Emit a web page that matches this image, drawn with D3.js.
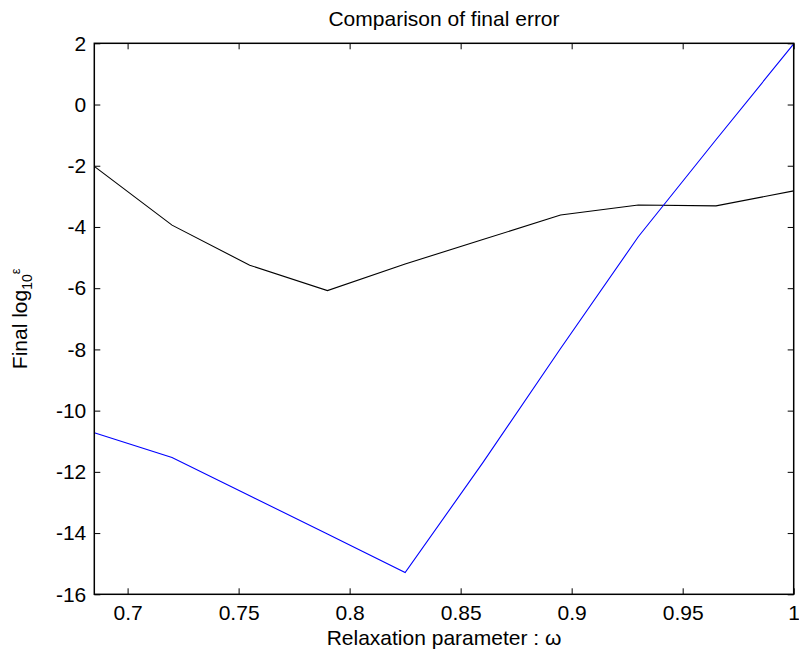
<!DOCTYPE html>
<html>
<head>
<meta charset="utf-8">
<script src="https://cdn.jsdelivr.net/npm/d3@7"></script>
<style>
  html, body { margin: 0; padding: 0; background: #fff; }
  svg { display: block; font-family: "Liberation Sans", Arial, Helvetica, sans-serif; }
</style>
</head>
<body>
<svg id="chart" width="799" height="657"></svg>
<script>
// Relaxation parameter values sampled
const omega = [0.685, 0.72, 0.755, 0.79, 0.825, 0.86, 0.895, 0.93, 0.965, 1.0];
// Final log10 error for the two methods
const errBlack = [-2.02, -3.94, -5.25, -6.08, -5.21, -4.41, -3.61, -3.28, -3.31, -2.82];
const errBlue = [-10.72, -11.53, -12.78, -14.03, -15.29, -11.7, -7.97, -4.32, -1.15, 1.98];
// Axis ticks
const xTicks = [0.7, 0.75, 0.8, 0.85, 0.9, 0.95, 1];
const xTickLabels = ["0.7", "0.75", "0.8", "0.85", "0.9", "0.95", "1"];
const yTicks = [-16, -14, -12, -10, -8, -6, -4, -2, 0, 2];

const svg = d3.select("#chart");
const plot = { left: 94.3, right: 793.7, top: 43.3, bottom: 594.3 };
const fontSize = 21;

const x = d3.scaleLinear().domain([0.685, 1]).range([plot.left, plot.right]);
const y = d3.scaleLinear().domain([-16, 2]).range([plot.bottom, plot.top]);

// Data lines
const line = d3.line().x((d, i) => x(omega[i])).y(d => y(d));
svg.append("path").datum(errBlack)
  .attr("d", line).attr("fill", "none").attr("stroke", "#000").attr("stroke-width", 1.1);
svg.append("path").datum(errBlue)
  .attr("d", line).attr("fill", "none").attr("stroke", "#0000ff").attr("stroke-width", 1.1);

// Axes with inward ticks
const tickLen = 6;
function styleAxis(g) {
  g.select(".domain").remove();
  g.selectAll(".tick line").attr("stroke", "#000").attr("stroke-width", 1);
  g.selectAll(".tick text").attr("font-size", fontSize).attr("fill", "#000")
    .attr("font-family", "Liberation Sans, Arial, sans-serif");
}
svg.append("g").attr("transform", `translate(0,${plot.bottom})`)
  .call(d3.axisBottom(x).tickValues(xTicks).tickFormat((d, i) => xTickLabels[i])
    .tickSizeInner(-tickLen).tickSizeOuter(0).tickPadding(11))
  .call(styleAxis);
svg.append("g").attr("transform", `translate(0,${plot.top})`)
  .call(d3.axisTop(x).tickValues(xTicks).tickFormat("").tickSizeInner(-tickLen).tickSizeOuter(0))
  .call(styleAxis);
svg.append("g").attr("transform", `translate(${plot.left},0)`)
  .call(d3.axisLeft(y).tickValues(yTicks).tickFormat(d => String(d))
    .tickSizeInner(-tickLen).tickSizeOuter(0).tickPadding(8))
  .call(styleAxis);
svg.append("g").attr("transform", `translate(${plot.right},0)`)
  .call(d3.axisRight(y).tickValues(yTicks).tickFormat("").tickSizeInner(-tickLen).tickSizeOuter(0))
  .call(styleAxis);

// Axes box
svg.append("rect")
  .attr("x", plot.left).attr("y", plot.top)
  .attr("width", plot.right - plot.left).attr("height", plot.bottom - plot.top)
  .attr("fill", "none").attr("stroke", "#000").attr("stroke-width", 1.5);

// Title and axis labels
const cx = (plot.left + plot.right) / 2;
svg.append("text").attr("x", cx).attr("y", 26).attr("text-anchor", "middle")
  .attr("font-size", fontSize).text("Comparison of final error");
svg.append("text").attr("x", cx).attr("y", 645).attr("text-anchor", "middle")
  .attr("font-size", fontSize).text("Relaxation parameter : ω");

const ylab = svg.append("text")
  .attr("transform", `translate(27,${(plot.top + plot.bottom) / 2}) rotate(-90)`)
  .attr("text-anchor", "middle").attr("font-size", fontSize);
ylab.append("tspan").text("Final log");
ylab.append("tspan").attr("font-size", 14).attr("dy", 5).text("10");
ylab.append("tspan").attr("font-size", 13).attr("dy", -12).text("ε");
</script>
</body>
</html>
